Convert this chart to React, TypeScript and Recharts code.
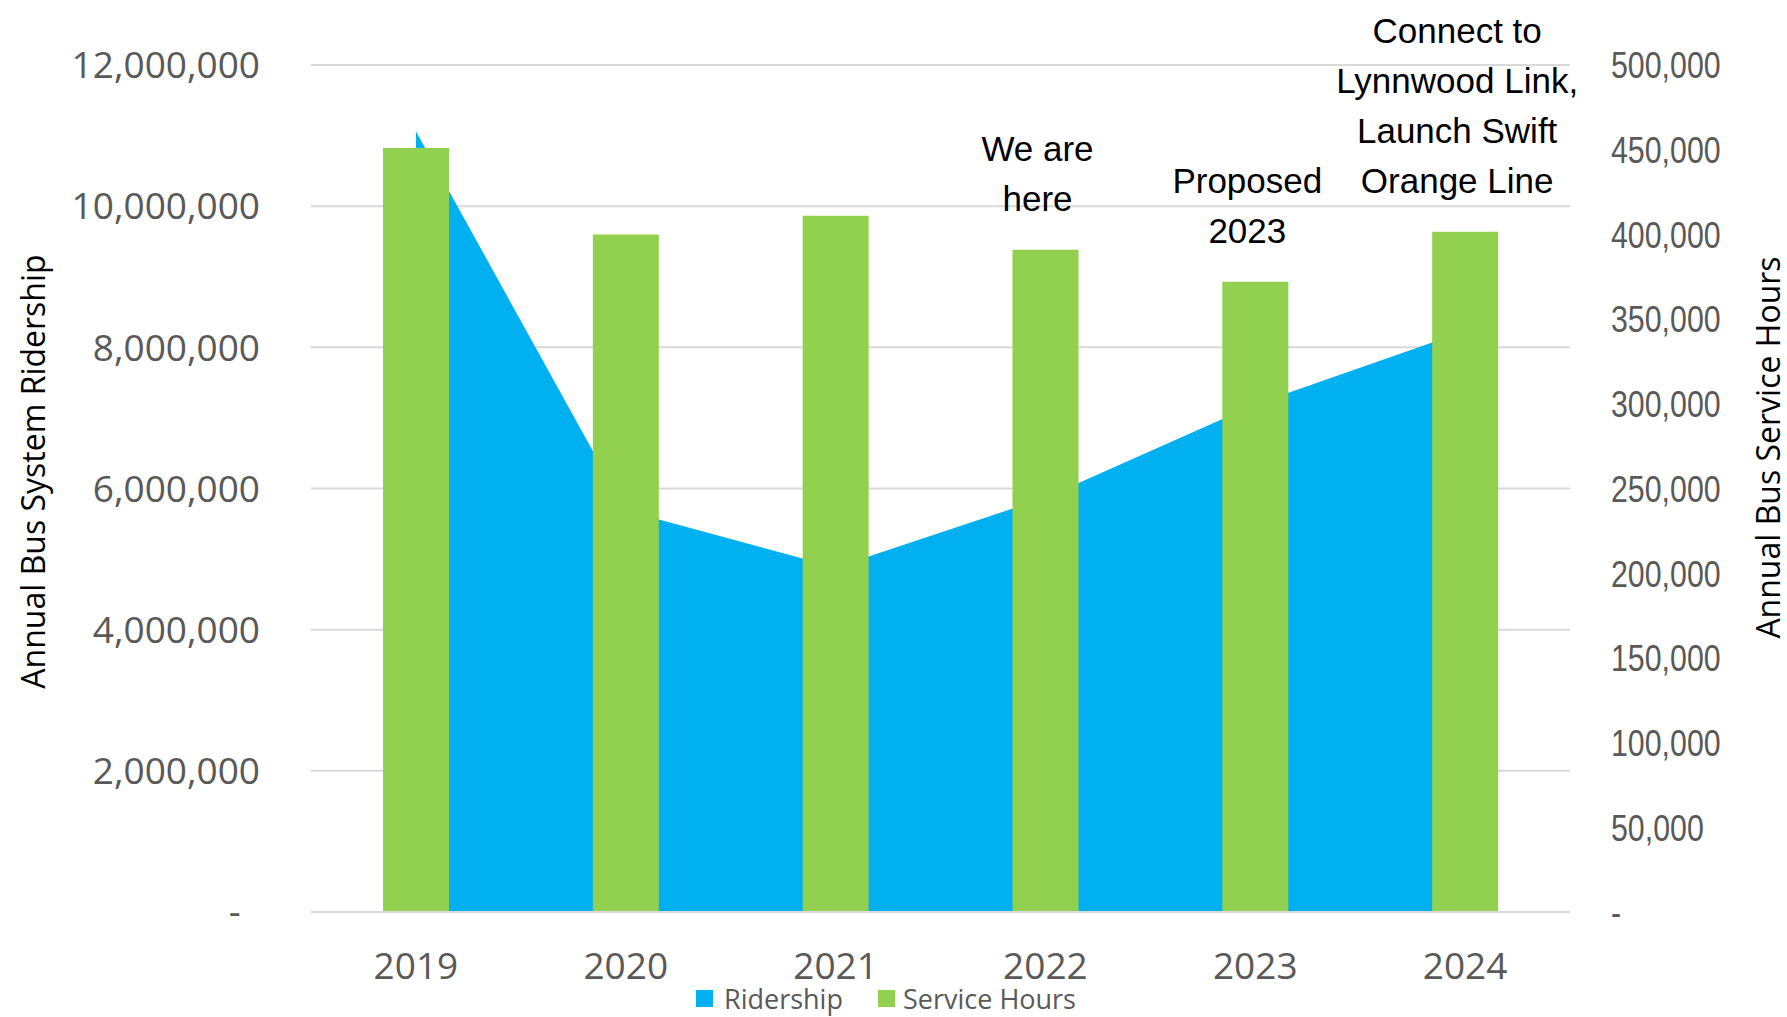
import React from 'react';
import {
  Area,
  Bar,
  CartesianGrid,
  ComposedChart,
  Label,
  LabelList,
  Legend,
  XAxis,
  YAxis,
} from 'recharts';

const YEARS = ['2019', '2020', '2021', '2022', '2023', '2024'];
const RIDERSHIP = [11060000, 5690000, 4880000, 5870000, 7190000, 8230000];
const SERVICE_HOURS = [451000, 400000, 411000, 391000, 372000, 401500];
const NOTES: string[][] = [
  [],
  [],
  [],
  ['We are', 'here'],
  ['Proposed', '2023'],
  ['Connect to', 'Lynnwood Link,', 'Launch Swift', 'Orange Line'],
];
const RIDERSHIP_TICKS = [0, 2000000, 4000000, 6000000, 8000000, 10000000, 12000000];
const HOURS_TICKS = [0, 50000, 100000, 150000, 200000, 250000, 300000, 350000, 400000, 450000, 500000];

const COLORS = {
  ridership: '#00B0F0',
  hours: '#92D050',
  grid: '#D9D9D9',
  tick: '#595959',
};

const SANS = '"Open Sans", "Noto Sans", sans-serif';
const ARIAL = '"Liberation Sans", Arial, sans-serif';

const chartData = YEARS.map((year, i) => ({
  year,
  ridership: RIDERSHIP[i],
  hours: SERVICE_HOURS[i],
  note: i,
}));

const fmt = (v: number) => v.toLocaleString('en-US');

function LeftTick({ x, y, payload }: any) {
  const label = payload.value === 0 ? '-\u00a0\u00a0' : fmt(payload.value);
  return (
    <text x={x} y={y} dy="0.36em" textAnchor="end" fill={COLORS.tick} fontSize={37} fontFamily={SANS}>
      {label}
    </text>
  );
}

function RightTick({ x, y, payload }: any) {
  const label = payload.value === 0 ? '-' : fmt(payload.value);
  return (
    <text
      transform={`translate(${x},${y}) scale(0.82,1)`}
      dy="0.36em"
      textAnchor="start"
      fill={COLORS.tick}
      fontSize={37}
      fontFamily={ARIAL}
    >
      {label}
    </text>
  );
}

// annotation text sits above the bar, last line ~39px over the bar top
function NoteLabel(props: any) {
  const vb = props.viewBox ?? props;
  const idx = typeof props.value === 'number' ? props.value : props.index;
  const lines = NOTES[idx] ?? [];
  if (!lines.length) return null;
  const cx = vb.x + vb.width / 2 - 8;
  const top = Math.min(vb.y, vb.y + vb.height);
  const lineH = 50;
  return (
    <text textAnchor="middle" fill="#000" fontSize={35} fontFamily={ARIAL}>
      {lines.map((line, i) => (
        <tspan key={line} x={cx} y={top - 39 - (lines.length - 1 - i) * lineH}>
          {line}
        </tspan>
      ))}
    </text>
  );
}

function LegendContent() {
  const item = (color: string, text: string, gap: number) => (
    <span style={{ display: 'flex', alignItems: 'center' }}>
      <span style={{ width: 17, height: 17, background: color, marginRight: gap }} />
      <span>{text}</span>
    </span>
  );
  return (
    <div
      style={{
        height: 45,
        boxSizing: 'border-box',
        paddingTop: 8,
        paddingRight: 15,
        display: 'flex',
        alignItems: 'center',
        justifyContent: 'center',
        gap: 35,
        fontFamily: SANS,
        fontSize: 27,
        color: COLORS.tick,
        lineHeight: 1,
      }}
    >
      {item(COLORS.ridership, 'Ridership', 11)}
      {item(COLORS.hours, 'Service Hours', 8)}
    </div>
  );
}

export default function App() {
  return (
    <div style={{ position: 'absolute', left: 0, top: 0, background: '#fff' }}>
      <ComposedChart
        width={1787}
        height={1017}
        data={chartData}
        margin={{ top: 65, right: 0, bottom: 0, left: 0 }}
      >
        <CartesianGrid vertical={false} stroke={COLORS.grid} strokeWidth={2} yAxisId="left" />
        <XAxis
          dataKey="year"
          height={60}
          tickSize={0}
          tickMargin={41}
          axisLine={{ stroke: COLORS.grid, strokeWidth: 2 }}
          tickLine={false}
          tick={{ fill: COLORS.tick, fontSize: 37, fontFamily: SANS }}
        />
        <YAxis
          yAxisId="left"
          width={311}
          domain={[0, 12000000]}
          ticks={RIDERSHIP_TICKS}
          tickSize={0}
          tickMargin={51}
          axisLine={false}
          tickLine={false}
          tick={<LeftTick />}
          interval={0}
        >
          <Label
            content={({ viewBox }: any) => {
              const x = viewBox.x + 32;
              const y = viewBox.y + viewBox.height / 2 - 17;
              return (
                <text
                  x={x}
                  y={y}
                  transform={`rotate(-90, ${x}, ${y})`}
                  textAnchor="middle"
                  dominantBaseline="central"
                  fontSize={32}
                  fontFamily={SANS}
                  fill="#000"
                >
                  Annual Bus System Ridership
                </text>
              );
            }}
          />
        </YAxis>
        <YAxis
          yAxisId="right"
          orientation="right"
          width={217}
          domain={[0, 500000]}
          ticks={HOURS_TICKS}
          tickSize={0}
          tickMargin={41}
          axisLine={false}
          tickLine={false}
          tick={<RightTick />}
          interval={0}
        >
          <Label
            content={({ viewBox }: any) => {
              const x = viewBox.x + 197;
              const y = viewBox.y + viewBox.height / 2 - 41;
              return (
                <text
                  x={x}
                  y={y}
                  transform={`rotate(-90, ${x}, ${y})`}
                  textAnchor="middle"
                  dominantBaseline="central"
                  fontSize={32}
                  fontFamily={SANS}
                  fill="#000"
                >
                  Annual Bus Service Hours
                </text>
              );
            }}
          />
        </YAxis>
        <Legend verticalAlign="bottom" height={45} wrapperStyle={{ left: 0, width: 1787 }} content={<LegendContent />} />
        <Area
          yAxisId="left"
          type="linear"
          dataKey="ridership"
          name="Ridership"
          fill={COLORS.ridership}
          fillOpacity={1}
          stroke="none"
          isAnimationActive={false}
        />
        <Bar
          yAxisId="right"
          dataKey="hours"
          name="Service Hours"
          fill={COLORS.hours}
          barSize={66}
          isAnimationActive={false}
        >
          <LabelList dataKey="note" content={<NoteLabel />} />
        </Bar>
      </ComposedChart>
    </div>
  );
}
